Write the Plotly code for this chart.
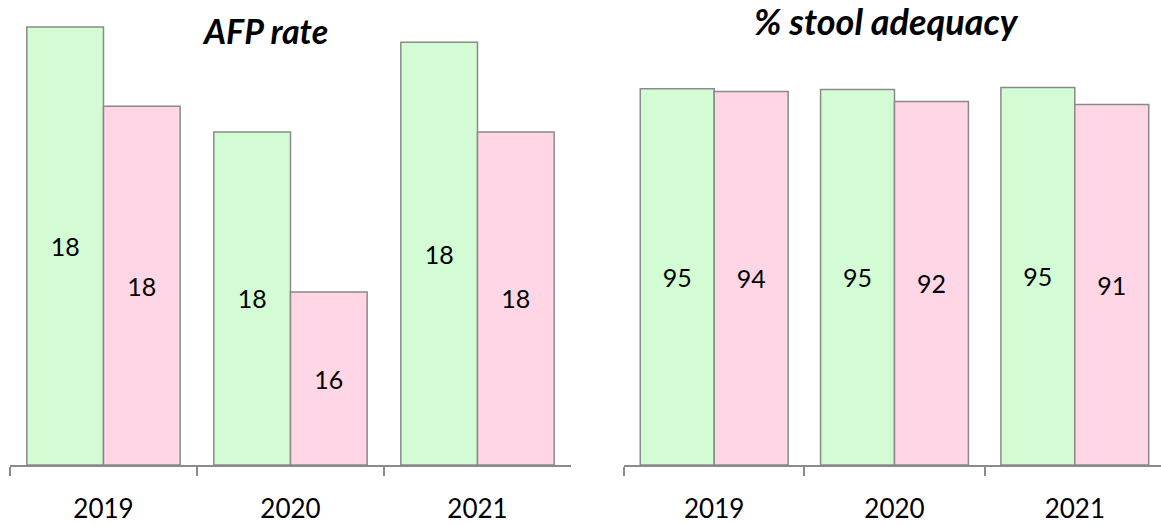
import plotly.graph_objects as go
from plotly.subplots import make_subplots

years = ["2019", "2020", "2021"]

afp_green = [18.42, 17.6, 18.3]
afp_pink = [17.8, 16.35, 17.6]

stool_green = [95.0, 94.8, 95.3]
stool_pink = [94.3, 91.8, 91.0]

GREEN = "#d4fcd4"
PINK = "#ffd6e6"
EDGE = "#8a8a8a"
FONT = "Lato"

# the AFP axis does not start at zero, bars sit on the axis floor
AFP_FLOOR = 15

fig = make_subplots(rows=1, cols=2)


def add_bars(y, color, col, base=0):
    fig.add_trace(
        go.Bar(
            x=years,
            y=[v - base for v in y],
            base=base,
            text=[f"{v:.0f}" for v in y],
            texttemplate="%{text}",
            marker=dict(color=color, line=dict(color=EDGE, width=1.5)),
            textposition="inside",
            insidetextanchor="middle",
            textangle=0,
            textfont=dict(family=FONT, size=25, color="black"),
            showlegend=False,
            hoverinfo="skip",
        ),
        row=1,
        col=col,
    )


add_bars(afp_green, GREEN, 1, AFP_FLOOR)
add_bars(afp_pink, PINK, 1, AFP_FLOOR)
add_bars(stool_green, GREEN, 2)
add_bars(stool_pink, PINK, 2)

fig.update_xaxes(
    showline=True,
    linecolor=EDGE,
    linewidth=1.5,
    ticks="outside",
    tickson="boundaries",
    ticklen=9,
    tickcolor=EDGE,
    tickwidth=1.5,
    ticklabelstandoff=20,
    tickfont=dict(family=FONT, size=26, color="black"),
    showgrid=False,
    automargin=False,
)
fig.update_xaxes(domain=[0.0086, 0.4918], row=1, col=1)
fig.update_xaxes(domain=[0.5375, 1.0], range=[-0.5, 2.478], row=1, col=2)
fig.update_yaxes(visible=False, showgrid=False)
fig.update_yaxes(range=[AFP_FLOOR, 18.63], row=1, col=1)
fig.update_yaxes(range=[0, 117.4], row=1, col=2)

titulo = dict(
    xref="paper",
    yref="paper",
    xanchor="center",
    yanchor="middle",
    showarrow=False,
)

fig.update_layout(
    width=1161,
    height=525,
    barmode="group",
    bargap=0.18,
    bargroupgap=0,
    plot_bgcolor="white",
    paper_bgcolor="white",
    margin=dict(l=0, r=0, t=0, b=60),
    annotations=[
        dict(
            text="<b><i>AFP rate</i></b>",
            x=0.2283,
            y=0.935,
            font=dict(family=FONT, size=34, color="black"),
            **titulo,
        ),
        dict(
            text="<b><i>% stool adequacy</i></b>",
            x=0.7632,
            y=0.955,
            font=dict(family=FONT, size=36, color="black"),
            **titulo,
        ),
    ],
)

fig.write_html(
    "out.html",
    config={"displayModeBar": False},
    post_script="document.body.style.margin='0px';",
)
